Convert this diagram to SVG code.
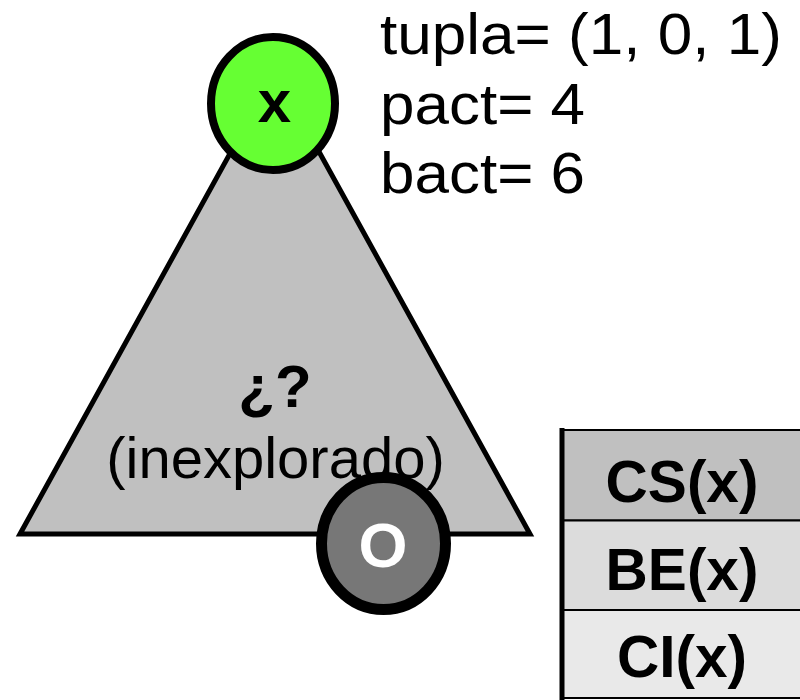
<svg xmlns="http://www.w3.org/2000/svg" width="800" height="700" viewBox="0 0 800 700">
<style>
.t{font-family:"Liberation Sans",Arial,sans-serif;fill:#000}
.b{font-weight:bold}
.cell{stroke:#000;stroke-width:2}
.info{font-size:58px}
</style>
<rect width="800" height="700" fill="#fff"/>
<g id="tree">
<polygon points="20,534 275,72 530,534" fill="#c0c0c0" stroke="#000" stroke-width="5" stroke-linejoin="miter"/>
<text class="t b" x="275" y="407" font-size="60" text-anchor="middle">¿?</text>
<text class="t" x="275.5" y="478" font-size="58" text-anchor="middle">(inexplorado)</text>
</g>
<g id="node-x">
<ellipse cx="273" cy="103.5" rx="62" ry="66.5" fill="#66ff33" stroke="#000" stroke-width="8"/>
<text class="t b" x="274.5" y="122" font-size="60" text-anchor="middle">x</text>
</g>
<g id="node-o">
<ellipse cx="383.5" cy="543.5" rx="62" ry="66" fill="#777777" stroke="#000" stroke-width="11"/>
<text class="t b" x="383" y="567" font-size="63" text-anchor="middle" style="fill:#fff">O</text>
</g>
<g id="info">
<text class="t info" x="380" y="54" textLength="402" lengthAdjust="spacingAndGlyphs">tupla= (1, 0, 1)</text>
<text class="t info" x="380" y="124" textLength="205" lengthAdjust="spacingAndGlyphs">pact= 4</text>
<text class="t info" x="380" y="193" textLength="205" lengthAdjust="spacingAndGlyphs">bact= 6</text>
</g>
<g id="table">
<rect class="cell" x="562" y="430" width="250" height="90.5" fill="#c0c0c0"/>
<rect class="cell" x="562" y="520.5" width="250" height="89.5" fill="#dcdcdc"/>
<rect class="cell" x="562" y="610" width="250" height="88" fill="#e9e9e9"/>
<line x1="562" y1="428" x2="562" y2="700" stroke="#000" stroke-width="5"/>
<text class="t b" x="682" y="502" font-size="58.5" text-anchor="middle">CS(x)</text>
<text class="t b" x="682" y="590" font-size="58.5" text-anchor="middle">BE(x)</text>
<text class="t b" x="682" y="677" font-size="58.5" text-anchor="middle">CI(x)</text>
</g>
<g id="connectors"></g>
</svg>
